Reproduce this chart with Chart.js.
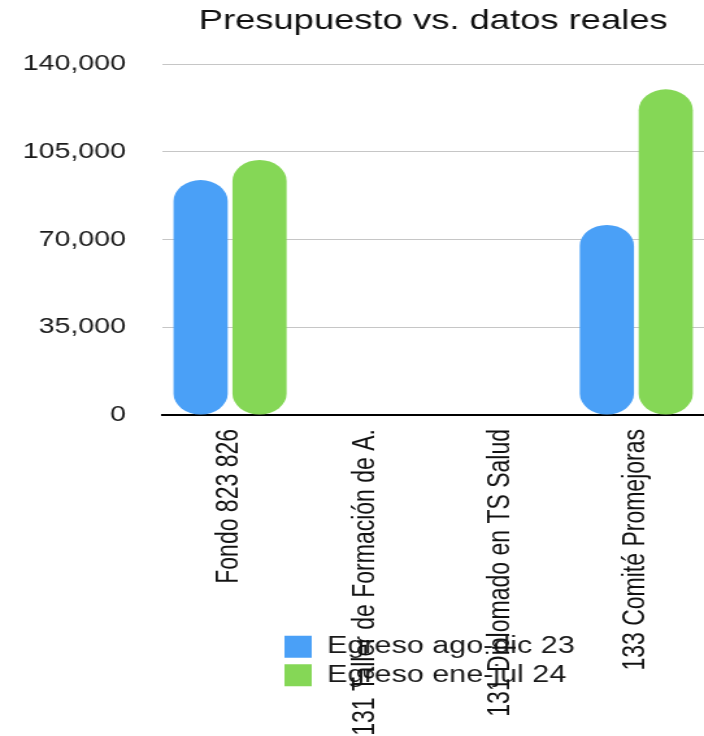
<!DOCTYPE html>
<html>
<head>
<meta charset="utf-8">
<script src="https://cdn.jsdelivr.net/npm/chart.js@4/dist/chart.umd.min.js"></script>
<style>
  html, body { margin: 0; padding: 0; background: #fff; overflow: hidden; }
  /* the reference is a horizontally stretched screenshot: draw narrower, then stretch */
  #wrap { width: 542px; height: 736px; position: relative; transform: scaleX(1.2989); transform-origin: 0 0; }
</style>
</head>
<body>
<div id="wrap"><canvas id="chart"></canvas></div>
<script>
const CATEGORIES = [
  'Fondo 823 826',
  '131 Taller de Formación de A.',
  '131 Diplomado en TS Salud',
  '133 Comité Promejoras',
];
const SERIES_NAMES = ['Egreso ago-dic 23', 'Egreso ene-jul 24'];
const EGRESO_AGO_DIC_23 = [93700, 0, 0, 75800];
const EGRESO_ENE_JUL_24 = [101700, 0, 0, 129900];
const Y_TICKS = [0, 35000, 70000, 105000, 140000];

const BLUE = '#4aa0f7';
const GREEN = '#85d756';
const FONT = "'Liberation Sans', Arial, Helvetica, sans-serif";

// Title sits over the plot area and the legend overlaps the rotated labels,
// so move those two boxes once Chart.js has done its layout.
const placeBoxes = {
  id: 'placeBoxes',
  afterLayout(chart) {
    const area = chart.chartArea;
    const tb = chart.titleBlock;
    tb.left = area.left;
    tb.right = area.right;

    const lg = chart.legend;
    const w = lg.width, h = lg.height;
    lg.left = area.left + 89;
    lg.top = area.bottom + 215;
    lg.right = lg.left + w;
    lg.bottom = lg.top + h + 10;
  },
};

const ctx = document.getElementById('chart').getContext('2d');
new Chart(ctx, {
  type: 'bar',
  data: {
    labels: CATEGORIES,
    datasets: [
      {
        label: SERIES_NAMES[0],
        data: EGRESO_AGO_DIC_23,
        backgroundColor: BLUE,
        borderRadius: 21,
        borderSkipped: false,
        categoryPercentage: 0.87,
        barPercentage: 0.92,
      },
      {
        label: SERIES_NAMES[1],
        data: EGRESO_ENE_JUL_24,
        backgroundColor: GREEN,
        borderRadius: 21,
        borderSkipped: false,
        categoryPercentage: 0.87,
        barPercentage: 0.92,
      },
    ],
  },
  options: {
    responsive: true,
    maintainAspectRatio: false,
    animation: false,
    layout: { padding: 0 },
    scales: {
      x: {
        grid: { display: false, drawTicks: false },
        border: { display: true, color: '#000', width: 2 },
        ticks: {
          minRotation: 90,
          maxRotation: 90,
          autoSkip: false,
          padding: 14,
          color: '#111',
          font: { family: FONT, size: 23 },
        },
        afterFit: (scale) => { scale.height = 321; },
      },
      y: {
        min: 0,
        max: 140000,
        afterBuildTicks: (scale) => { scale.ticks = Y_TICKS.map((v) => ({ value: v })); },
        grid: { color: '#c6c6c6', lineWidth: 1, drawTicks: false },
        border: { display: false },
        ticks: {
          padding: 28,
          color: '#1a1a1a',
          font: { family: FONT, size: 22 },
          callback: (v) => v.toLocaleString('en-US'),
        },
        afterFit: (scale) => { scale.width = 125; },
      },
    },
    plugins: {
      title: {
        display: true,
        text: 'Presupuesto vs. datos reales',
        color: '#111',
        font: { family: FONT, size: 28, weight: 'normal' },
        padding: { top: 4, bottom: 26.4 },
      },
      legend: {
        position: 'chartArea',
        align: 'start',
        labels: {
          boxWidth: 21,
          boxHeight: 22,
          padding: 5,
          color: '#1a1a1a',
          font: { family: FONT, size: 23.5 },
        },
      },
      tooltip: { enabled: false },
    },
  },
  plugins: [placeBoxes],
});
</script>
</body>
</html>
